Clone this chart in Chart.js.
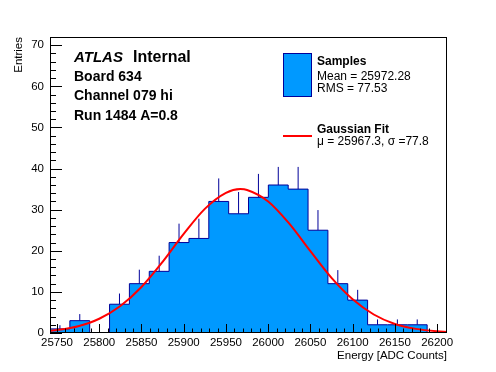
<!DOCTYPE html>
<html>
<head>
<meta charset="utf-8">
<script src="https://cdn.jsdelivr.net/npm/chart.js@4.4.1/dist/chart.umd.min.js"></script>
<style>
html, body { margin: 0; padding: 0; background: #fff; }
#wrap { width: 496px; height: 372px; }
</style>
</head>
<body>
<div id="wrap"><canvas id="myChart" width="496" height="372"></canvas></div>
<script>
// histogram, 20 bins from binLow
const binLow = 25741.7;
const binWidth = 23.5;
const counts = [1, 3, 0, 7, 12, 15, 22, 23, 32, 29, 33, 36, 35, 25, 12, 8, 2, 2, 2, 0];
// top end of each error bar (null = no bar)
const errTops = [1.9, 4.6, null, 9.6, 15.4, 18.8, 26.6, 27.8, 37.6, 34.3, 38.7, 40.4, 40.4, 29.9, 15.3, 10.5, 3.3, 3.3, 3.3, null];

// gaussian fit curve
const fitX = [25742, 25750, 25775, 25800, 25825, 25850, 25875, 25900, 25925, 25950, 25967, 25975, 26000, 26025, 26050, 26075, 26100, 26125, 26150, 26175, 26200, 26212];
const fitY = [0.53, 0.71, 1.65, 3.47, 6.57, 11.2, 17.3, 24.1, 30.2, 34.1, 35.0, 34.8, 32.0, 26.6, 19.9, 13.4, 8.2, 4.5, 2.2, 1.0, 0.4, 0.25];

const xTicks = [25750, 25800, 25850, 25900, 25950, 26000, 26050, 26100, 26150, 26200];
const yTicks = [0, 10, 20, 30, 40, 50, 60, 70];

const FONT = "'Liberation Sans', Arial, Helvetica, sans-serif";
const fillBlue = '#0099ff';
const lineBlue = '#000099';

function histPoints() {
    const pts = [{x: binLow, y: 0}];
    counts.forEach((c, i) => pts.push({x: binLow + i * binWidth, y: c}));
    const end = binLow + counts.length * binWidth;
    pts.push({x: end, y: counts[counts.length - 1]});
    pts.push({x: end, y: 0});
    return pts;
}

function errPoints() {
    const pts = [];
    counts.forEach((c, i) => {
        if (errTops[i] === null) return;
        const cx = binLow + (i + 0.5) * binWidth;
        pts.push({x: cx, y: c});
        pts.push({x: cx, y: errTops[i]});
        pts.push({x: cx, y: null});
    });
    return pts;
}

// ROOT style frame with inward ticks
const frame = {
    id: 'frame',
    afterDatasetsDraw(chart) {
        const {ctx, chartArea: a, scales: {x, y}} = chart;
        ctx.save();
        ctx.strokeStyle = '#000';
        ctx.lineWidth = 1;
        ctx.beginPath();
        for (let v = Math.ceil(binLow / 10) * 10; v <= x.max; v += 10) {
            const px = Math.round(x.getPixelForValue(v)) + 0.5;
            const len = v % 50 === 0 ? 9 : 4.5;
            ctx.moveTo(px, a.bottom);
            ctx.lineTo(px, a.bottom - len);
        }
        for (let v = 0; v <= y.max; v += 2) {
            const py = Math.round(y.getPixelForValue(v)) + 0.5;
            const len = v % 10 === 0 ? 12 : 6;
            ctx.moveTo(a.left, py);
            ctx.lineTo(a.left + len, py);
        }
        ctx.stroke();
        ctx.strokeRect(a.left + 0.5, a.top + 0.5, a.right - a.left - 1, a.bottom - a.top - 1);
        ctx.restore();
    },
    afterDraw(chart) {
        const ctx = chart.ctx;
        ctx.save();
        ctx.fillStyle = '#000';
        ctx.textBaseline = 'alphabetic';
        ctx.textAlign = 'left';

        ctx.font = 'italic bold 15px ' + FONT;
        ctx.fillText('ATLAS', 74, 62);
        ctx.font = 'bold 16px ' + FONT;
        ctx.fillText('Internal', 133, 62);

        ctx.font = 'bold 14px ' + FONT;
        ctx.fillText('Board 634', 74, 80.5);
        ctx.fillText('Channel 079 hi', 74, 100);
        ctx.fillText('Run 1484 A=0.8', 74, 119.5);

        // legend
        ctx.fillStyle = fillBlue;
        ctx.fillRect(283, 53, 29, 44);
        ctx.strokeStyle = lineBlue;
        ctx.lineWidth = 1;
        ctx.strokeRect(283.5, 53.5, 28, 43);

        ctx.strokeStyle = '#ff0000';
        ctx.lineWidth = 2;
        ctx.beginPath();
        ctx.moveTo(283, 136);
        ctx.lineTo(312, 136);
        ctx.stroke();

        ctx.fillStyle = '#000';
        ctx.font = 'bold 12px ' + FONT;
        ctx.fillText('Samples', 317, 65);
        ctx.fillText('Gaussian Fit', 317, 133);
        ctx.font = '12px ' + FONT;
        ctx.fillText('Mean = 25972.28', 317, 80);
        ctx.fillText('RMS = 77.53', 317, 91.5);
        ctx.fillText('\u03bc = 25967.3, \u03c3 =77.8', 317, 145);
        ctx.restore();
    }
};

new Chart(document.getElementById('myChart').getContext('2d'), {
    type: 'line',
    data: {
        datasets: [
            {
                label: 'Gaussian Fit',
                data: fitX.map((v, i) => ({x: v, y: fitY[i]})),
                borderColor: '#ff0000',
                borderWidth: 2,
                pointRadius: 0,
                fill: false,
                cubicInterpolationMode: 'monotone'
            },
            {
                label: 'Samples',
                data: histPoints(),
                stepped: true,
                borderColor: lineBlue,
                borderWidth: 1,
                backgroundColor: fillBlue,
                fill: 'origin',
                pointRadius: 0
            },
            {
                label: 'errors',
                data: errPoints(),
                borderColor: lineBlue,
                borderWidth: 1,
                pointRadius: 0,
                fill: false,
                spanGaps: false
            }
        ]
    },
    options: {
        responsive: false,
        animation: false,
        devicePixelRatio: 1,
        layout: {padding: {top: 37, right: 49, left: 0, bottom: 0}},
        plugins: {legend: {display: false}, tooltip: {enabled: false}},
        scales: {
            x: {
                type: 'linear',
                min: binLow,
                max: binLow + counts.length * binWidth,
                grid: {display: false, drawTicks: false, tickLength: 0},
                border: {display: false},
                afterBuildTicks: s => { s.ticks = xTicks.map(v => ({value: v})); },
                afterFit: s => { s.height = 39; },
                ticks: {
                    color: '#000', font: {family: FONT, size: 11.5},
                    padding: 3, maxRotation: 0, autoSkip: false,
                    callback: v => String(v)
                },
                title: {
                    display: true, text: 'Energy [ADC Counts]', align: 'end', color: '#000',
                    font: {family: FONT, size: 11.5}, padding: {top: 0, bottom: 9}
                }
            },
            y: {
                min: 0,
                max: 72,
                grid: {display: false, drawTicks: false, tickLength: 0},
                border: {display: false},
                afterBuildTicks: s => { s.ticks = yTicks.map(v => ({value: v})); },
                afterFit: s => { s.width = 50; },
                ticks: {color: '#000', font: {family: FONT, size: 11.5}, padding: 6, callback: v => String(v)},
                title: {
                    display: true, text: 'Entries', align: 'end', color: '#000',
                    font: {family: FONT, size: 11.5}, padding: {top: 11.5, bottom: 0}
                }
            }
        }
    },
    plugins: [frame]
});
</script>
</body>
</html>
